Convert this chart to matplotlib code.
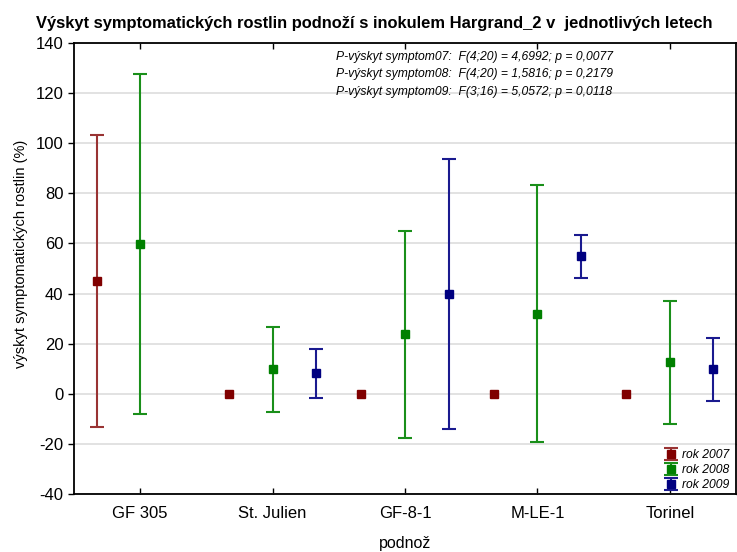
import numpy as np
import matplotlib
matplotlib.use("Agg")
import matplotlib.pyplot as plt

plt.rcParams['font.family'] = ['Liberation Sans', 'DejaVu Sans']
plt.rcParams['axes.unicode_minus'] = False

categories = ["GF 305", "St. Julien", "GF-8-1", "M-LE-1", "Torinel"]
years = ["rok 2007", "rok 2008", "rok 2009"]
mean_2007 = [45.0, 0.0, 0.0, 0.0, 0.0]
err_2007 = [58.1, 0.0, 0.0, 0.0, 0.0]
mean_2008 = [59.8, 9.7, 23.8, 32.0, 12.6]
err_2008 = [68.0, 17.0, 41.3, 51.2, 24.6]
mean_2009 = [np.nan, 8.2, 39.8, 54.8, 9.7]
err_2009 = [np.nan, 9.7, 53.8, 8.5, 12.4]
stats_lines = [
    "P-výskyt symptom07:  F(4;20) = 4,6992; p = 0,0077",
    "P-výskyt symptom08:  F(4;20) = 1,5816; p = 0,2179",
    "P-výskyt symptom09:  F(3;16) = 5,0572; p = 0,0118",
]

colors = ["#800000", "#008000", "#000080"]
line_colors = ["#993333", "#1a8f1a", "#1a1a8f"]

fig = plt.figure(figsize=(7.37, 5.52), dpi=100)
ax = fig.add_axes([74/737, 58/552, 662/737, 451/552])

x = np.arange(len(categories))
offsets = [-0.33, 0.0, 0.33]
handles = []
for i, (m, e) in enumerate([(mean_2007, err_2007), (mean_2008, err_2008), (mean_2009, err_2009)]):
    e = np.array(e, dtype=float)
    e_plot = np.where(e > 0, e, np.nan)
    h = ax.errorbar(x + offsets[i], m, yerr=e_plot, fmt='s', color=colors[i],
                    ecolor=line_colors[i], elinewidth=1.5, capsize=5, capthick=1.5,
                    markersize=6, label=years[i], zorder=3)
    handles.append(h)

ax.set_xlim(-0.5, 4.5)
ax.set_ylim(-40, 140)
ax.set_yticks(np.arange(-40, 141, 20))
ax.set_xticks(x)
ax.set_xticklabels(categories, fontsize=12)
ax.tick_params(axis='y', labelsize=12, direction='out', length=4, right=True, width=1)
ax.tick_params(axis='x', direction='in', length=4, top=True, width=1, pad=9)
ax.grid(axis='y', color='#dddddd', linewidth=1.2, zorder=0)
ax.set_axisbelow(True)
for s in ax.spines.values():
    s.set_linewidth(1.3)

ax.set_ylabel("výskyt symptomatických rostlin (%)", fontsize=10.5, va='center')
ax.yaxis.set_label_coords(-0.080, 0.532)
ax.set_xlabel("podnož", fontsize=11.5, va='center')
ax.xaxis.set_label_coords(0.5, -0.109)

fig.text(0.049, 0.957, "Výskyt symptomatických rostlin podnoží s inokulem Hargrand_2 v  jednotlivých letech",
         fontsize=11.9, fontweight='bold', ha='left', va='center')

for j, line in enumerate(stats_lines):
    fig.text(336/737, 1 - (57 + j*17.5)/552, line, fontsize=8.7, style='italic',
             ha='left', va='center')

leg = ax.legend(handles=handles, loc='lower right', bbox_to_anchor=(1.0, -0.01),
                frameon=False, prop={'style': 'italic', 'size': 8.7},
                handlelength=1.0, handletextpad=0.4, labelspacing=0.25, borderaxespad=0.2)

fig.savefig("out.png", dpi=100)
